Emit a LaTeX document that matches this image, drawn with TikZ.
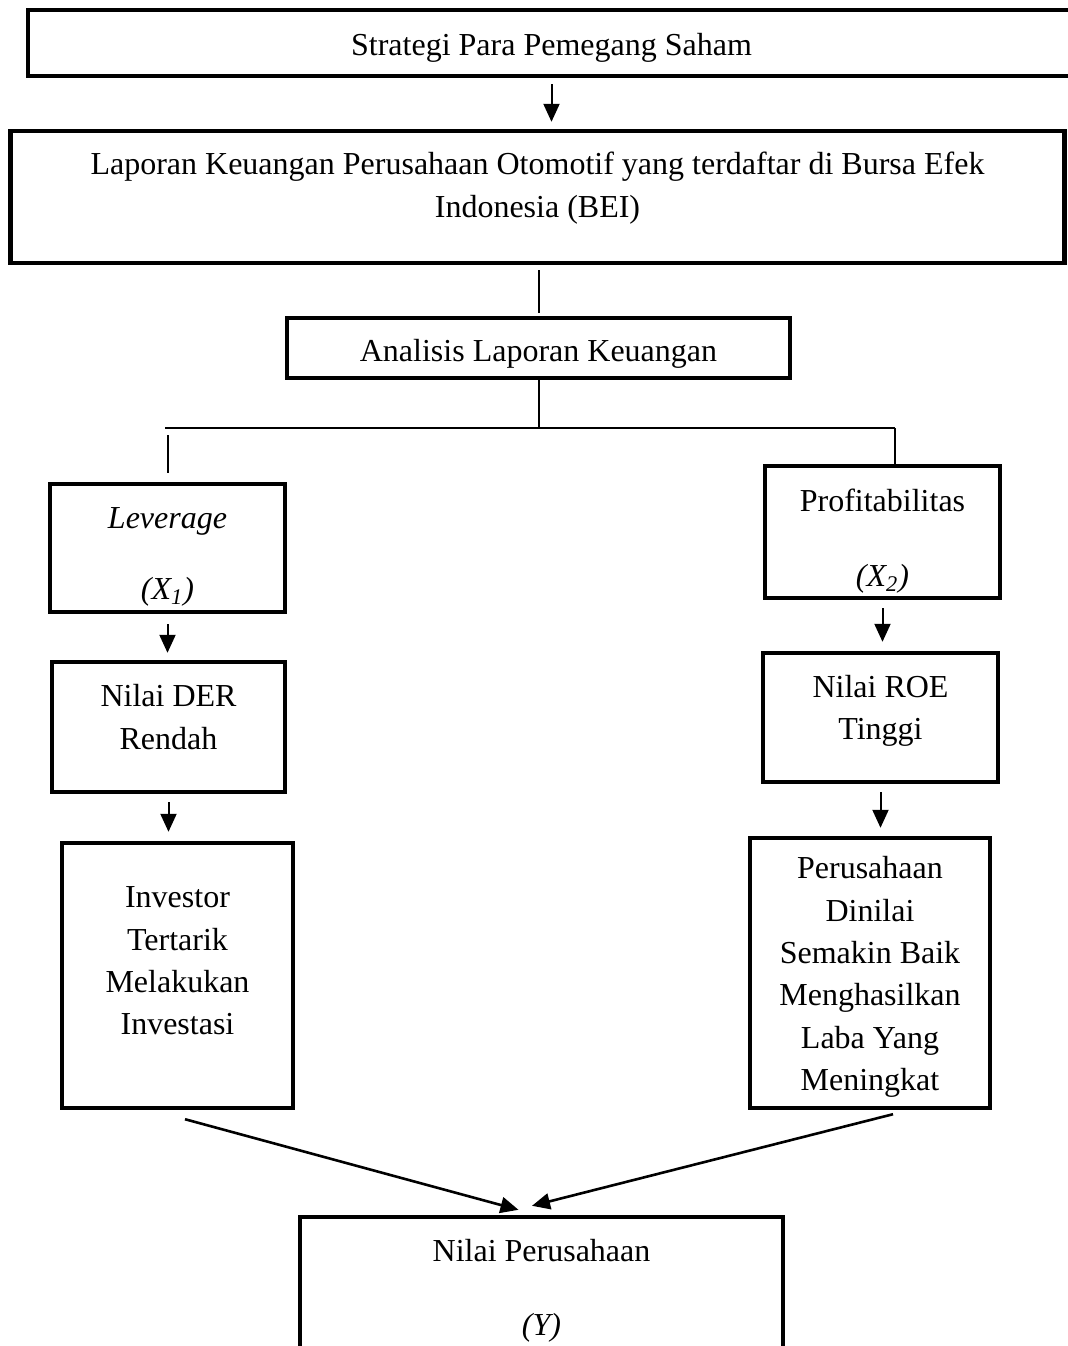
\documentclass[tikz,border=0pt]{standalone}
\usepackage{fontspec}
\setmainfont{Liberation Serif}
\usetikzlibrary{arrows.meta}

\begin{document}
\begin{tikzpicture}[x=0.5pt,y=-0.5pt,
    font=\fontsize{16}{21.2}\selectfont,
    blok/.style={draw, line width=2.2pt, inner sep=0pt},
    isi/.style={inner sep=0pt, align=center},
    garis/.style={line width=1pt},
    panah/.style={line width=1pt, -{Triangle[length=9pt,width=8pt]}}]
  \useasboundingbox (0,0) rectangle (1068,1346);

  % kotak-kotak utama
  \node[blok, minimum width=523.5pt, minimum height=33pt] (strat) at (551.5,43) {};
  \node[isi] (stratT) at (551.5,48) {Strategi Para Pemegang Saham};
  \node[blok, minimum width=527pt, minimum height=66pt] (lapor) at (537.5,197) {};
  \node[isi] (laporT) at (537.5,188) {Laporan Keuangan Perusahaan Otomotif yang terdaftar di Bursa Efek\\Indonesia (BEI)};
  \node[blok, minimum width=251.5pt, minimum height=30pt] (anal) at (538.5,348) {};
  \node[isi] (analT) at (538.5,354) {Analisis Laporan Keuangan};

  % cabang kiri
  \node[blok, minimum width=117.5pt, minimum height=64pt] (lev) at (167.5,548) {};
  \node[isi] (levT) at (167.5,557) {\textit{Leverage}\\[14.5pt]\textit{(X\textsubscript{1})}};
  \node[blok, minimum width=116.5pt, minimum height=65pt] (der) at (168.5,727) {};
  \node[isi] (derT) at (168.5,717) {Nilai DER\\Rendah};
  \node[blok, minimum width=115.5pt, minimum height=132.5pt] (inv) at (177.5,975.5) {};
  \node[isi] (invT) at (177.5,961) {Investor\\Tertarik\\Melakukan\\Investasi};

  % cabang kanan
  \node[blok, minimum width=117.5pt, minimum height=66pt] (prof) at (882.5,532) {};
  \node[isi] (profT) at (882.5,541) {Profitabilitas\\[16.5pt]\textit{(X\textsubscript{2})}};
  \node[blok, minimum width=117.5pt, minimum height=64.5pt] (roe) at (880.5,717.5) {};
  \node[isi] (roeT) at (880.5,711) {Nilai ROE\\Tinggi};
  \node[blok, minimum width=120pt, minimum height=135pt] (per) at (870,973) {};
  \node[isi] (perT) at (870,977) {Perusahaan\\Dinilai\\Semakin Baik\\Menghasilkan\\Laba Yang\\Meningkat};

  % hasil
  \node[blok, minimum width=241.5pt, minimum height=66pt] (nilai) at (541.5,1283) {};
  \node[isi] (nilaiT) at (541.5,1291) {Nilai Perusahaan\\[16pt]\textit{(Y)}};

  % penghubung
  \coordinate (kiri) at (165,428);
  \coordinate (kanan) at (895,428);
  \draw[panah, shorten <=3pt, shorten >=3.5pt] (strat.south) -- (strat.south |- lapor.north);
  \draw[garis, shorten <=2.5pt, shorten >=1.5pt] (anal.north |- lapor.south) -- (anal.north);
  \draw[garis] (anal.south) -- (anal.south |- kiri);
  \draw[garis] (kiri) -- (kanan);
  \draw[garis] (kanan) -- (kanan |- prof.north);
  \draw[garis, shorten <=3.5pt, shorten >=4.5pt] (lev.north |- kiri) -- (lev.north);
  \draw[panah, shorten <=5pt, shorten >=3.5pt] (lev.south) -- (lev.south |- der.north);
  \draw[panah, shorten <=4pt, shorten >=4.5pt] (prof.south) -- (prof.south |- roe.north);
  \draw[panah, shorten <=4pt, shorten >=4.5pt] (der.south) -- (der.south |- inv.north);
  \draw[panah, shorten <=4pt, shorten >=4pt] (roe.south) -- (roe.south |- per.north);
  \draw[panah, line width=1.3pt] ([shift={(7.5,9)}]inv.south) -- ([shift={(-23,-5)}]nilai.north);
  \draw[panah, line width=1.3pt] ([shift={(23,4)}]per.south) -- ([shift={(-9.5,-9)}]nilai.north);
\end{tikzpicture}
\end{document}
